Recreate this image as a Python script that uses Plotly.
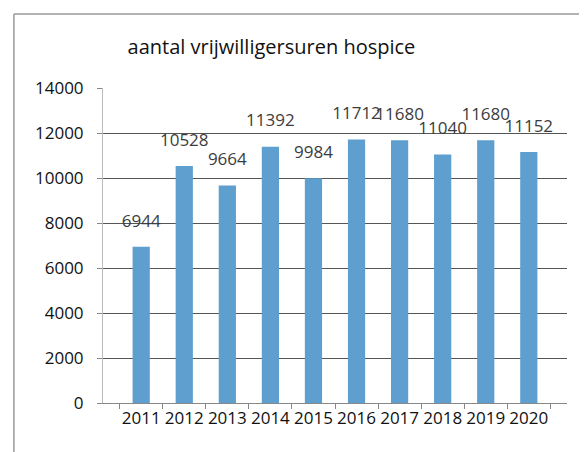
import plotly.graph_objects as go

years = ["2011", "2012", "2013", "2014", "2015", "2016", "2017", "2018", "2019", "2020"]
hours = [6944, 10528, 9664, 11392, 9984, 11712, 11680, 11040, 11680, 11152]
title_text = "aantal vrijwilligersuren hospice"
y_ticks = [0, 2000, 4000, 6000, 8000, 10000, 12000, 14000]

FONT = "Open Sans, Liberation Sans, sans-serif"

fig = go.Figure()
fig.add_trace(go.Bar(
    x=years, y=hours,
    marker=dict(color="#5E9FD0", line=dict(width=0)),
    hoverinfo="x+y",
))
# data labels, placed above bars
fig.add_trace(go.Scatter(
    x=years, y=hours, mode="text+markers",
    marker=dict(size=24, opacity=0),
    text=[str(v) for v in hours],
    textposition="top center",
    textfont=dict(family=FONT, size=17, color="#3c3c3c"),
    cliponaxis=False, hoverinfo="skip",
))

fig.update_layout(
    width=579, height=444,
    margin=dict(l=95, r=20, t=80, b=49),
    paper_bgcolor="white", plot_bgcolor="white",
    showlegend=False,
    bargap=0.6,
    title=dict(text=title_text, xref="paper", x=0.363, xanchor="center",
               yref="container", y=0.912, yanchor="middle",
               font=dict(family=FONT, size=20, color="#111111")),
    font=dict(family=FONT, size=17, color="#111111"),
)
fig.update_xaxes(
    type="category", tickson="boundaries", ticks="outside", ticklen=5,
    tickcolor="#888888", showline=True, linecolor="#888888", linewidth=1,
    showgrid=False, tickfont=dict(size=17, color="#111111"),
    tickangle=0, automargin=False,
)
fig.update_yaxes(
    range=[0, 14000], tickvals=y_ticks, ticktext=[str(t) for t in y_ticks],
    showgrid=True, gridcolor="#555555", gridwidth=1,
    ticks="outside", ticklen=5, tickcolor="#888888",
    showline=True, linecolor="#bbbbbb", linewidth=1,
    zeroline=False, tickfont=dict(size=17, color="#111111"),
    ticklabelstandoff=10, automargin=False,
)
# outer chart border (scanned frame)
fig.add_shape(type="line", xref="paper", yref="paper", x0=-0.192, x1=1.2, y0=1.235, y1=1.235,
              line=dict(color="#999999", width=1.5))
fig.add_shape(type="line", xref="paper", yref="paper", x0=-0.192, x1=-0.192, y0=1.235, y1=-0.3,
              line=dict(color="#999999", width=1.5))

fig.write_html("out.html")
